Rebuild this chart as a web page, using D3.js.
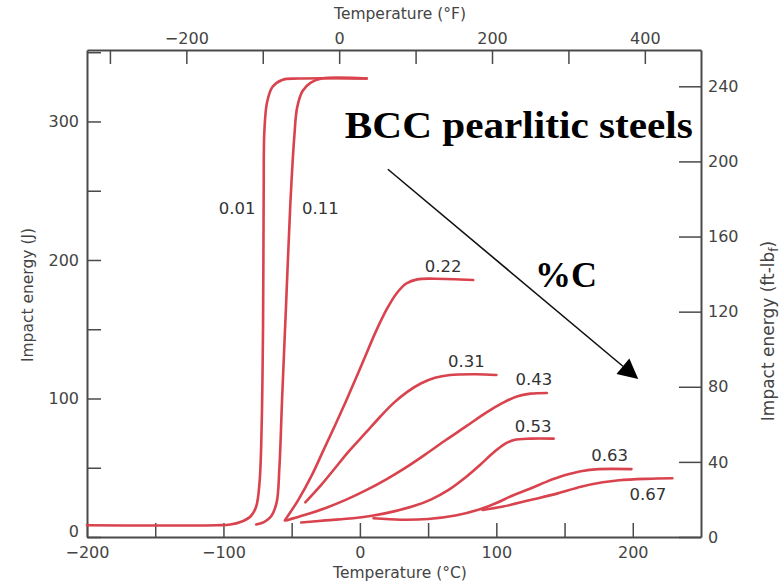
<!DOCTYPE html>
<html><head><meta charset="utf-8">
<script src="https://cdn.jsdelivr.net/npm/d3@7"></script>
<style>
html,body{margin:0;padding:0;background:#fff;}
svg{display:block;}
</style></head>
<body>
<svg id="chart" width="784" height="587"></svg>
<script>
// ---- data: [temperature °C, impact energy J] ----
const c001 = [[-200,8.5],[-105,8.5],[-95,9],[-87,11],[-80,15],[-76,22],[-73.5,40],[-72,80],[-71,150],[-70.5,250],[-70,293],[-68,314],[-64,325],[-57,330],[-45,331],[5,331]];
const c011 = [[-76,9],[-70,11],[-65,15],[-61,25],[-59,50],[-57,100],[-54,170],[-51,240],[-48,290],[-46,310],[-42,322],[-36,328],[-28,331],[5,331]];
const c022 = [[-55,12],[-45,27],[-35,45],[-27,62],[-18,81],[-8,103],[2,126],[12,149],[20,165],[27,176],[34,183],[42,186],[55,186.5],[83,185.5]];
const c031 = [[-40,25],[-28,38],[-18,50],[-8,62],[5,76],[15,87],[25,97],[35,105],[45,111],[55,115],[66,117],[85,117.5],[100,117]];
const c043 = [[-54,12],[-40,16],[-25,21],[-10,27],[5,34],[20,42],[35,51],[50,61],[63,70],[78,80],[92,89.5],[105,97],[115,101.5],[125,103.5],[137,104]];
const c053 = [[-43,10.5],[-25,12],[-5,13.5],[10,15.5],[25,18.5],[40,22.5],[52,27],[65,34],[78,43.5],[88,52],[98,61],[106,67],[113,70],[125,71],[142,71]];
const c063 = [[10,13.5],[30,12.5],[50,13],[70,15.5],[88,20],[100,24.5],[112,30],[125,35],[137,40],[150,44.5],[162,47.5],[175,49],[199,49]];
const c067 = [[90,19.5],[105,22],[125,26.7],[145,31.5],[162,36.3],[178,39.5],[190,41],[210,42],[229,42.4]];

const curves = [c001, c011, c022, c031, c043, c053, c063, c067];
const curveNames = ["0.01","0.11","0.22","0.31","0.43","0.53","0.63","0.67"];
// label anchor positions [°C, J]
const labelPos = [[-90,237.5],[-29,237.5],[61,195],[78,126.5],[127.5,113.5],[127,79.5],[183,59],[211,31]];

// ticks
const tempCTicks = [-200,-150,-100,-50,0,50,100,150,200];
const tempCLabels = [-200,-100,0,100,200];
const tempFTicks = [-300,-200,-100,0,100,200,300,400];
const tempFLabels = [-200,0,200,400];
const energyJTicks = [0,50,100,150,200,250,300,350];
const energyJLabels = [0,100,200,300];
const energyFtTicks = [0,40,80,120,160,200,240];

// annotations [°C, J]
const arrowStart = [20.5,265.5];
const arrowEnd = [204,114];
const titlePos = [-11,288];
const pctPos = [151,189];

// ---- layout ----
const L = 87, R = 701, T = 50, B = 537;
const x = d3.scaleLinear().domain([-200,250]).range([L,R]);
const xF = d3.scaleLinear().domain([-330,473.5]).range([L,R]);
const y = d3.scaleLinear().domain([0,351.6]).range([B,T]);
const yFt = d3.scaleLinear().domain([0,351.6/1.3558]).range([B,T]);

const svg = d3.select("#chart");
const axisColor = "#4a4a4a";
const labelFont = "DejaVu Sans, Verdana, sans-serif";

function styleAxis(g){
  g.select(".domain").attr("stroke",axisColor).attr("stroke-width",2);
  g.selectAll(".tick line").attr("stroke",axisColor).attr("stroke-width",1.5);
  g.selectAll(".tick text").attr("fill","#444").style("font-family",labelFont).style("font-size","16px");
}

svg.append("g").attr("transform",`translate(0,${B})`)
  .call(d3.axisBottom(x).tickValues(tempCTicks).tickSizeInner(-14).tickSizeOuter(0).tickPadding(10)
    .tickFormat(d => tempCLabels.includes(d) ? d3.format("")(d) : ""))
  .call(styleAxis);

svg.append("g").attr("transform",`translate(0,${T})`)
  .call(d3.axisTop(xF).tickValues(tempFTicks).tickSizeInner(-14).tickSizeOuter(0).tickPadding(6)
    .tickFormat(d => tempFLabels.includes(d) ? d3.format("")(d) : ""))
  .call(styleAxis);

const gLeft = svg.append("g").attr("transform",`translate(${L},0)`)
  .call(d3.axisLeft(y).tickValues(energyJTicks).tickSizeInner(-14).tickSizeOuter(0).tickPadding(8)
    .tickFormat(d => energyJLabels.includes(d) ? d3.format("")(d) : ""))
  .call(styleAxis);
// lift the corner "0" label a little so it clears the "−200" below it
gLeft.selectAll(".tick").filter(d => d === 0).select("text").attr("dy","-0.05em");

svg.append("g").attr("transform",`translate(${R},0)`)
  .call(d3.axisRight(yFt).tickValues(energyFtTicks).tickSizeInner(-22).tickSizeOuter(0).tickPadding(7)
    .tickFormat(d3.format("")))
  .call(styleAxis);

// axis titles
const titleFont = "DejaVu Sans, Verdana, sans-serif";
svg.append("text").attr("x",(L+R)/2 + 6).attr("y",19).attr("text-anchor","middle")
  .style("font-family",titleFont).style("font-size","15.5px").attr("fill","#444").text("Temperature (°F)");
svg.append("text").attr("x",(L+R)/2 + 6).attr("y",578).attr("text-anchor","middle")
  .style("font-family",titleFont).style("font-size","15.5px").attr("fill","#444").text("Temperature (°C)");
svg.append("text").attr("transform","translate(33,295) rotate(-90)").attr("text-anchor","middle")
  .style("font-family",titleFont).style("font-size","15.5px").attr("fill","#444").text("Impact energy (J)");
const rt = svg.append("text").attr("transform","translate(774,331) rotate(-90)").attr("text-anchor","middle")
  .style("font-family",titleFont).style("font-size","17px").attr("fill","#444");
rt.append("tspan").text("Impact energy (ft-lb");
rt.append("tspan").attr("dy",4).style("font-size","12px").text("f");
rt.append("tspan").attr("dy",-4).text(")");

// curves
const line = d3.line().x(d => x(d[0])).y(d => y(d[1])).curve(d3.curveCatmullRom.alpha(0.5));
svg.append("g").selectAll("path").data(curves).join("path")
  .attr("d",line).attr("fill","none").attr("stroke","#d9434d").attr("stroke-width",2.6)
  .attr("stroke-linecap","round").attr("stroke-linejoin","round");

// curve labels
svg.append("g").selectAll("text").data(curveNames).join("text")
  .attr("x",(d,i)=>x(labelPos[i][0])).attr("y",(d,i)=>y(labelPos[i][1]))
  .attr("text-anchor","middle").attr("dominant-baseline","central")
  .style("font-family",labelFont).style("font-size","16.5px").attr("fill","#333").text(d=>d);

// big annotation text
svg.append("text").attr("x",x(titlePos[0])).attr("y",y(titlePos[1]))
  .attr("textLength",348).attr("lengthAdjust","spacingAndGlyphs")
  .style("font-family","Liberation Serif, Times New Roman, serif").style("font-weight","bold")
  .style("font-size","37px").attr("fill","#000").text("BCC pearlitic steels");
svg.append("text").attr("x",x(pctPos[0])).attr("y",y(pctPos[1])).attr("text-anchor","middle")
  .attr("dominant-baseline","central")
  .style("font-family","Liberation Serif, Times New Roman, serif").style("font-weight","bold")
  .style("font-size","36px").attr("fill","#000").text("%C");

// arrow
const x1 = x(arrowStart[0]), y1 = y(arrowStart[1]), x2 = x(arrowEnd[0]), y2 = y(arrowEnd[1]);
const ang = Math.atan2(y2-y1, x2-x1), hl = 20, hw = 10;
const bx = x2 - hl*Math.cos(ang), by = y2 - hl*Math.sin(ang);
svg.append("line").attr("x1",x1).attr("y1",y1).attr("x2",bx).attr("y2",by)
  .attr("stroke","#111").attr("stroke-width",1.6);
svg.append("path")
  .attr("d",`M${x2},${y2}L${bx - hw*Math.sin(ang)},${by + hw*Math.cos(ang)}L${bx + hw*Math.sin(ang)},${by - hw*Math.cos(ang)}Z`)
  .attr("fill","#000");
</script>
</body></html>
